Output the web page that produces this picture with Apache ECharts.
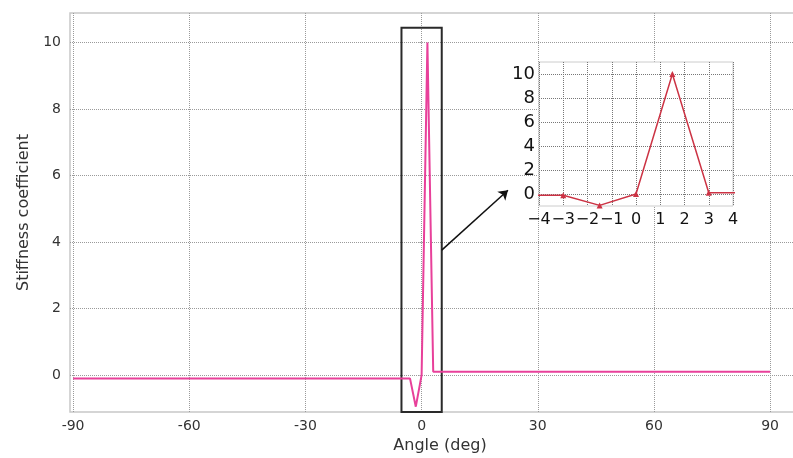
<!DOCTYPE html>
<html>
<head>
<meta charset="utf-8">
<script src="https://cdn.jsdelivr.net/npm/echarts@6/dist/echarts.min.js"></script>
<style>
  html, body { margin: 0; padding: 0; background: #fff; }
  #chart { width: 793px; height: 458px; }
</style>
</head>
<body>
<div id="chart"></div>
<script>
// stiffness coefficient vs angle (deg)
var angles = [-90, -3, -1.5, 0, 1.5, 3, 90];
var stiffness = [-0.1, -0.1, -0.95, 0, 10, 0.1, 0.1];

// tick labels
var mainXTicks = [-90, -60, -30, 0, 30, 60, 90];
var mainYTicks = [0, 2, 4, 6, 8, 10];
var insetXTicks = [-4, -3, -2, -1, 0, 1, 2, 3, 4];
var insetYTicks = [0, 2, 4, 6, 8, 10];

// zoomed window (box on main chart) and arrow toward the inset
var zoomWin = [-5.2, 5.2];
var zoomTop = 10.45;
var arrowFrom = [5.2, 3.76];
var arrowTo = [22.3, 5.56];

function run() {
  var chart = echarts.init(document.getElementById('chart'));
  var pts = angles.map(function (a, i) { return [a, stiffness[i]]; });
  var font = 'DejaVu Sans';

  function pick(list, minus) {
    return function (v) {
      if (list.indexOf(Math.round(v * 1000) / 1000) < 0) return '';
      var s = String(v);
      return minus ? s.replace('-', '\u2212') : s;
    };
  }

  var option = {
    animation: false,
    backgroundColor: '#fff',
    textStyle: { fontFamily: font },
    grid: [
      // main frame runs past the right edge of the picture
      { left: 70, top: 13, width: 740, bottom: 46, outerBoundsMode: 'none', show: true, borderColor: '#c8c8c8', borderWidth: 1.5, z: 0 },
      { left: 539, top: 62, right: 60, bottom: 252, outerBoundsMode: 'none', show: true, backgroundColor: '#fff', borderColor: '#cccccc', borderWidth: 1, z: 5 }
    ],
    xAxis: [
      {
        type: 'value', gridIndex: 0, min: -90.8, max: 100.3, splitNumber: 6, minInterval: 30, maxInterval: 30,
        axisLine: { show: false },
        axisTick: { show: true, length: 4, lineStyle: { color: '#999', type: 'dotted' } },
        axisLabel: { margin: 7, fontSize: 14, color: '#333', fontFamily: font, showMinLabel: false, showMaxLabel: false, formatter: pick(mainXTicks) },
        splitLine: { show: true, showMinLine: false, showMaxLine: false, lineStyle: { color: '#9a9a9a', type: 'dotted' } },
        name: 'Angle (deg)', nameLocation: 'middle', nameGap: 17,
        nameTextStyle: { fontSize: 16, color: '#333', fontFamily: font }
      },
      {
        type: 'value', gridIndex: 1, min: -4, max: 4, interval: 1, z: 6,
        axisLine: { show: false },
        axisTick: { show: false },
        axisLabel: { margin: 6, fontSize: 16, color: '#111', fontFamily: font, showMinLabel: true, showMaxLabel: true, hideOverlap: false, formatter: pick(insetXTicks, true) },
        splitLine: { show: true, lineStyle: { color: '#777', type: 'dotted' } }
      }
    ],
    yAxis: [
      {
        type: 'value', gridIndex: 0, min: -1.11, max: 10.89, splitNumber: 6, minInterval: 2, maxInterval: 2,
        axisLine: { show: false },
        axisTick: { show: true, length: 4, lineStyle: { color: '#999', type: 'dotted' } },
        axisLabel: { margin: 9, fontSize: 14, color: '#333', fontFamily: font, showMinLabel: false, showMaxLabel: false, formatter: pick(mainYTicks) },
        splitLine: { show: true, showMinLine: false, showMaxLine: false, lineStyle: { color: '#9a9a9a', type: 'dotted' } },
        name: 'Stiffness coefficient', nameLocation: 'middle', nameGap: 38,
        nameTextStyle: { fontSize: 16, color: '#333', fontFamily: font }
      },
      {
        type: 'value', gridIndex: 1, min: -1, max: 11, splitNumber: 6, minInterval: 2, maxInterval: 2, z: 6,
        axisLine: { show: false },
        axisTick: { show: false },
        axisLabel: { margin: 4, fontSize: 18, color: '#111', fontFamily: font, showMinLabel: false, showMaxLabel: false, formatter: pick(insetYTicks, true) },
        splitLine: { show: true, showMinLine: false, showMaxLine: false, lineStyle: { color: '#777', type: 'dotted' } }
      }
    ],
    series: [
      {
        type: 'line', xAxisIndex: 0, yAxisIndex: 0, data: pts, symbol: 'none', z: 3,
        lineStyle: { color: '#e8409a', width: 2 },
        markArea: {
          silent: true,
          itemStyle: { color: 'rgba(0,0,0,0)', borderColor: '#2a2a2a', borderWidth: 2 },
          data: [[{ xAxis: zoomWin[0], yAxis: zoomTop }, { xAxis: zoomWin[1], yAxis: -1.11 }]]
        },
        markLine: {
          silent: true, symbol: ['none', 'arrow'], symbolSize: 9,
          label: { show: false },
          lineStyle: { color: '#111', width: 1.5, type: 'solid' },
          data: [[{ coord: arrowFrom }, { coord: arrowTo }]]
        }
      },
      {
        type: 'line', xAxisIndex: 1, yAxisIndex: 1, data: pts, clip: true, z: 7,
        symbol: 'triangle', symbolSize: 6,
        itemStyle: { color: '#cc3344' },
        lineStyle: { color: '#cc3344', width: 1.5 }
      }
    ]
  };
  chart.setOption(option);
}

if (document.readyState !== 'loading') {
  run();
} else {
  document.addEventListener('DOMContentLoaded', run);
}
</script>
</body>
</html>
